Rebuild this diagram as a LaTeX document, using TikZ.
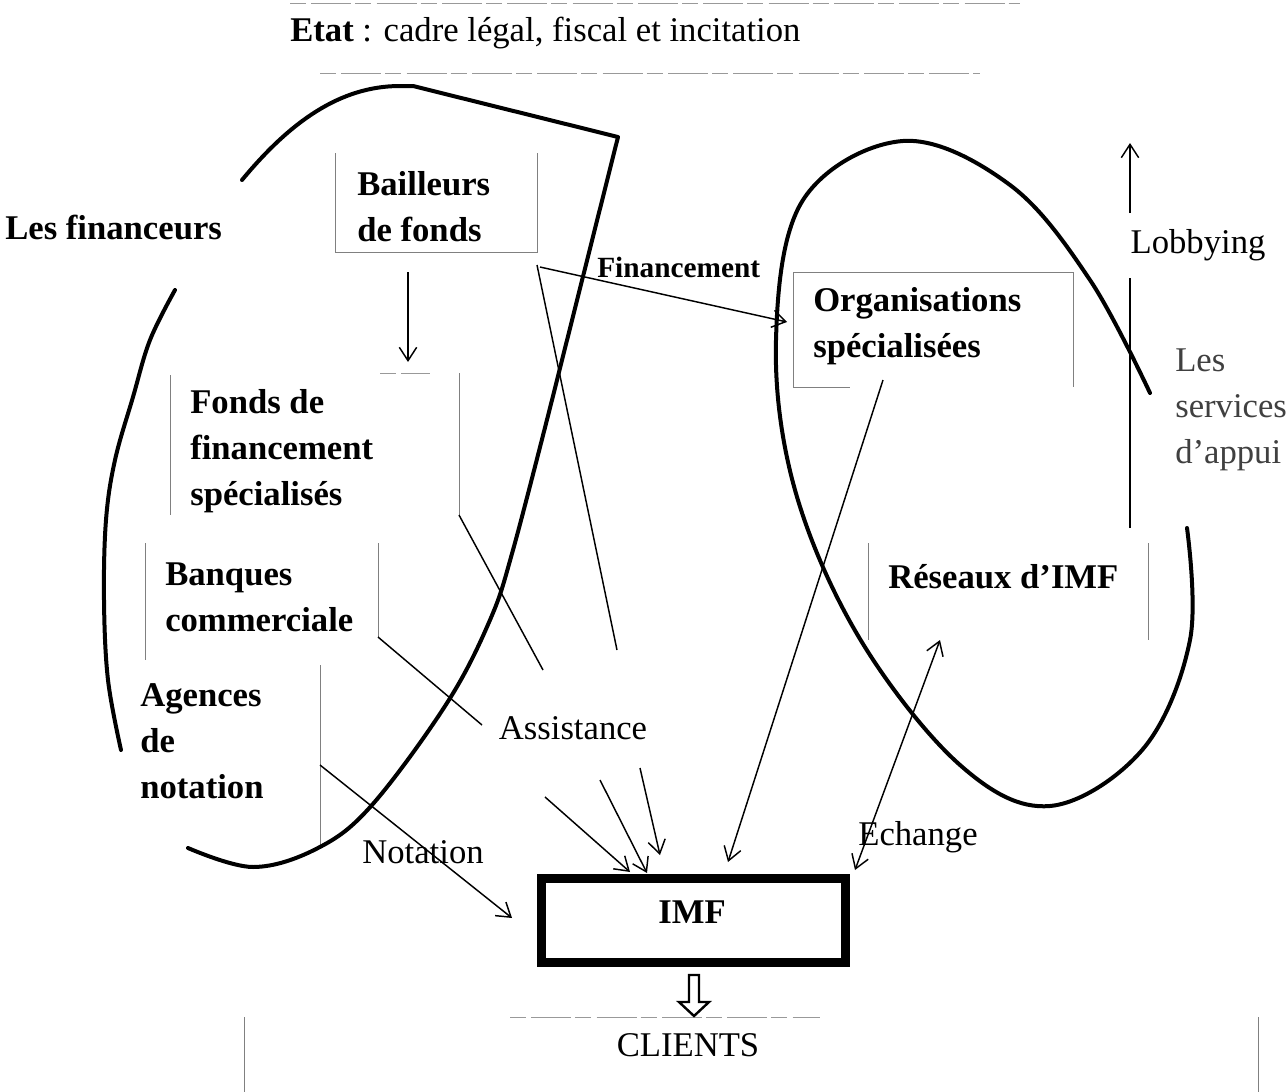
\documentclass[tikz,border=0pt]{standalone}
\usepackage{fontspec}
\setmainfont{Liberation Serif}
\usetikzlibrary{arrows.meta}
\begin{document}
\begin{tikzpicture}[x=0.75pt,y=-0.75pt,
  txt/.style={font=\fontsize{26}{34.5}\selectfont, inner sep=0pt},
  btxt/.style={font=\fontsize{26}{34.5}\selectfont\bfseries, inner sep=0pt, align=left},
  blob/.style={line width=3pt, line cap=round, line join=round},
  faint/.style={draw=black!50, line width=0.7pt},
  faintdash/.style={draw=black!40, line width=0.7pt, dash pattern=on 12pt off 4pt on 30pt off 3pt},
  conn/.style={line width=1.1pt},
  arr/.style={conn, -{Straight Barb[length=10pt,width=13pt,line width=1.1pt]}},
  darr/.style={conn, {Straight Barb[length=10pt,width=13pt,line width=1.1pt]}-{Straight Barb[length=10pt,width=13pt,line width=1.1pt]}}
]
\fill[white] (0,0) rectangle (1286,1092);
\useasboundingbox (0,0) rectangle (1286,1092);
\clip (0,0) rectangle (1286,1092);

% faint frame remnants
\draw[faintdash] (290,3) -- (1020,3);
\draw[faintdash] (320,73) -- (980,73);
\draw[faintdash] (510,1017) -- (820,1017);
\draw[faint] (244,1017) -- (244,1092);
\draw[faint] (1258,1017) -- (1258,1092);

% texts
\node[txt, anchor=west] (etat) at (290,33) {\textbf{Etat} : cadre légal, fiscal et incitation};
\node[btxt, anchor=west] (financeurs) at (5,228) {Les financeurs};
\node[btxt, anchor=west] (bail) at (357,207) {Bailleurs\\de fonds};
\node[font=\fontsize{22}{25}\selectfont\bfseries, inner sep=0pt, anchor=west] (financement) at (597,267) {Financement};
\node[btxt, anchor=west] (fonds) at (190,451) {Fonds de\\financement\\spécialisés};
\node[btxt, anchor=west] (banq) at (165,597) {Banques\\commerciale};
\node[btxt, anchor=west] (agen) at (140,741) {Agences\\de\\notation};
\node[txt] (assist) at (573,728) {Assistance};
\node[txt] (notation) at (423,852) {Notation};
\node[btxt, anchor=west] (org) at (813,326) {Organisations\\spécialisées};
\node[txt] (lobby) at (1198,245) {Lobbying};
\node[txt, anchor=west, align=left, text=black!75] (serv) at (1175,410) {Les\\services\\d'appui};
\node[btxt, anchor=west] (res) at (888,577) {Réseaux d’IMF};
\node[txt] (ech) at (918,837) {Echange};
\node[draw, line width=6.75pt, minimum width=228pt, minimum height=63pt, inner sep=0pt] (imf) at (693,920) {};
\node[font=\fontsize{26}{30}\selectfont\bfseries, inner sep=0pt] (imftxt) at (692,912) {IMF};
\node[txt] (cli) at (688,1045) {CLIENTS};

% box remnants
\draw[faint] (335,153) -- (335,252) -- (537,252) -- (537,153);
\draw[faint] (170,375) -- (170,515);
\draw[faintdash] (380,373) -- (430,373);
\draw[faint] (459,373) -- (459,515);
\draw[faint] (145,543) -- (145,660);
\draw[faint] (378,543) -- (378,637);
\draw[faint] (320,665) -- (320,845);
\draw[faint] (793,387) -- (793,272) -- (1073,272) -- (1073,387);
\draw[faint] (793,387) -- (850,387);
\draw[faint] (868,543) -- (868,640);
\draw[faint] (1148,543) -- (1148,640);

% coordinates for connectors
\coordinate (bailS) at (408,272);
\coordinate (fondsN) at (408,362);
\coordinate (bailE) at (540,267);
\coordinate (orgW) at (787,322);
\coordinate (bailC) at (537,265);
\coordinate (asA) at (617,650);
\coordinate (fondsC) at (459,515);
\coordinate (asB) at (543,670);
\coordinate (banqC) at (378,637);
\coordinate (asC) at (482,725);
\coordinate (agenE) at (320,765);
\coordinate (notT) at (512,918);
\coordinate (as1) at (545,797);
\coordinate (imf1) at (630,872);
\coordinate (as2) at (600,780);
\coordinate (imf2) at (647,873);
\coordinate (as3) at (640,768);
\coordinate (imf3) at (660,855);
\coordinate (orgS) at (883,380);
\coordinate (imf4) at (728,862);
\coordinate (imf5) at (855,870);
\coordinate (resS) at (940,640);
\coordinate (lobA) at (1130,528);
\coordinate (lobB) at (1130,278);
\coordinate (lobC) at (1130,213);
\coordinate (lobD) at (1130,143);

% connectors
\draw[arr] (bailS) -- (fondsN);
\draw[arr] (bailE) -- (orgW);
\draw[conn] (bailC) -- (asA);
\draw[conn] (fondsC) -- (asB);
\draw[conn] (banqC) -- (asC);
\draw[arr] (agenE) -- (notT);
\draw[arr] (as1) -- (imf1);
\draw[arr] (as2) -- (imf2);
\draw[arr] (as3) -- (imf3);
\draw[arr] (orgS) -- (imf4);
\draw[darr] (imf5) -- (resS);
\draw[conn] (lobA) -- (lobB);
\draw[arr] (lobC) -- (lobD);

% hollow arrow IMF -> CLIENTS
\draw[line width=1.8pt, fill=white, line join=miter]
  (689,975) -- (699,975) -- (699,1002) -- (709,1002) -- (694,1016) -- (679,1002) -- (689,1002) -- cycle;

% left blob
\draw[blob] (242,180) .. controls (290,122) and (340,86) .. (400,86)
  -- (413,86) -- (618,137) -- (552,400)
  -- plot[smooth, tension=0.6] coordinates {(552,400) (513,550) (490,620) (447,703) (372,805) (318,848) (253,867) (188,848)};
\draw[blob] plot[smooth, tension=0.6] coordinates {(175,290) (150,340) (133,397) (115,460) (106,520) (104,600) (108,680) (121,750)};

% right ellipse
\draw[blob] plot[smooth, tension=0.6] coordinates {(1187,528) (1190,640) (1143,749) (1050,806) (960,765) (860,639) (795,490) (776,340) (803,200) (903,141) (1010,185) (1090,280) (1150,393)};
\end{tikzpicture}
\end{document}
